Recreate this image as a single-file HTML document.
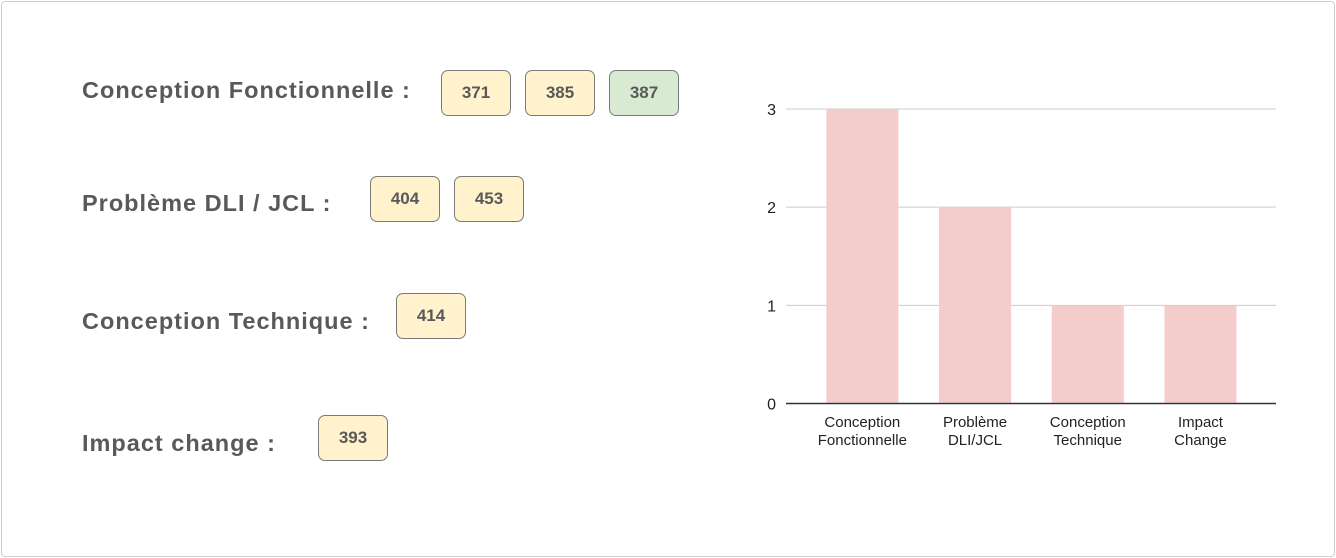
<!DOCTYPE html>
<html><head><meta charset="utf-8">
<style>
body{margin:0;width:1336px;height:558px;background:#fff;font-family:"Liberation Sans",Arial,sans-serif;overflow:hidden}
.frame{position:absolute;left:1px;top:1px;width:1332px;height:554px;border:1px solid #cfcfcf;border-radius:4px}
.lbl{position:absolute;left:82px;font-size:23.5px;letter-spacing:1px;font-weight:bold;color:#595959;line-height:30px;white-space:nowrap}
.box{position:absolute;width:68px;height:44px;border:1px solid #7a7a7a;border-radius:7px;background:#fff2cc;color:#595959;font-weight:bold;font-size:17px;display:flex;align-items:center;justify-content:center}
.g{background:#d9ead3}
</style></head><body>
<div class="frame"></div>
<div class="lbl" style="top:75px">Conception Fonctionnelle :</div>
<div class="box" style="left:441px;top:70px">371</div>
<div class="box" style="left:525px;top:70px">385</div>
<div class="box g" style="left:609px;top:70px">387</div>
<div class="lbl" style="top:188px">Problème DLI / JCL :</div>
<div class="box" style="left:370px;top:176px">404</div>
<div class="box" style="left:454px;top:176px">453</div>
<div class="lbl" style="top:306px">Conception Technique :</div>
<div class="box" style="left:396px;top:293px">414</div>
<div class="lbl" style="top:428px">Impact change :</div>
<div class="box" style="left:318px;top:415px">393</div>
<svg id="chart" width="1336" height="558" style="position:absolute;left:0;top:0"></svg>
<script>
const categories=[["Conception","Fonctionnelle"],["Problème","DLI/JCL"],["Conception","Technique"],["Impact","Change"]];
const values=[3,2,1,1];
const ticks=[0,1,2,3];
const NS="http://www.w3.org/2000/svg";
const svg=document.getElementById('chart');
const x0=786,x1=1276,y0=403.5,yTop=109,vmax=3,bandStart=806,band=112.7,bw=72;
const y=v=>y0-(y0-yTop)*v/vmax;
const bx=i=>bandStart+band*i+band/2;
function mk(t,a){const e=document.createElementNS(NS,t);for(const k in a)e.setAttribute(k,a[k]);svg.appendChild(e);return e;}
ticks.forEach(t=>{
  const l=mk('line',{x1:x0,x2:x1,y1:y(t),y2:y(t),stroke:t===0?'#333':'#ccc','stroke-width':t===0?1.5:1});
  
  
  const tx=mk('text',{x:776,y:y(t)+6,'text-anchor':'end','font-size':16,fill:'#222','font-family':'Liberation Sans, sans-serif'});
  tx.textContent=t;
  
  
});
values.forEach((v,i)=>{
  const r=mk('rect',{x:bx(i)-bw/2,y:y(v),width:bw,height:y0-y(v)-1,fill:'#f4cccc'});
  
  
  categories[i].forEach((s,j)=>{
    const t=mk('text',{x:bx(i),y:427+j*18,'text-anchor':'middle','font-size':15,fill:'#222','font-family':'Liberation Sans, sans-serif'});
    t.textContent=s;
    
    
  });
});
</script>
</body></html>
